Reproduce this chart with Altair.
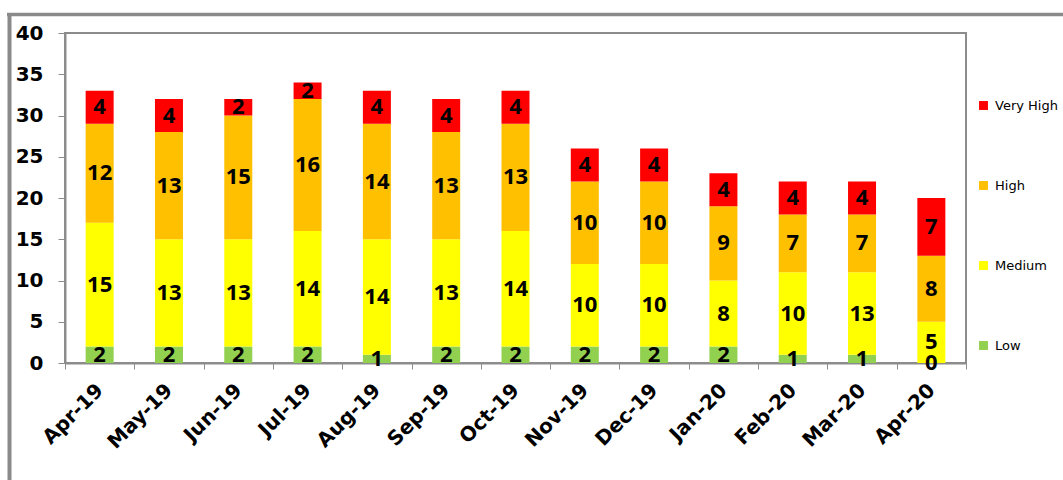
import altair as alt
import pandas as pd

months = ["Apr-19", "May-19", "Jun-19", "Jul-19", "Aug-19", "Sep-19", "Oct-19",
          "Nov-19", "Dec-19", "Jan-20", "Feb-20", "Mar-20", "Apr-20"]
series = ["Low", "Medium", "High", "Very High"]
legend_order = ["Very High", "High", "Medium", "Low"]
legend_colors = ["#FF0000", "#FFC000", "#FFFF00", "#92D050"]

low = [2, 2, 2, 2, 1, 2, 2, 2, 2, 2, 1, 1, 0]
medium = [15, 13, 13, 14, 14, 13, 14, 10, 10, 8, 10, 10, 5]
high = [12, 13, 15, 16, 14, 13, 13, 10, 10, 9, 7, 7, 8]
very_high = [4, 4, 2, 2, 4, 4, 4, 4, 4, 4, 4, 4, 7]
# data labels as printed on the original (Mar-20 Medium is labelled 13)
medium_labels = [15, 13, 13, 14, 14, 13, 14, 10, 10, 8, 10, 13, 5]

rows = []
for i, m in enumerate(months):
    vals = [low[i], medium[i], high[i], very_high[i]]
    labs = [low[i], medium_labels[i], high[i], very_high[i]]
    for k, s in enumerate(series):
        rows.append({"month": m, "series": s, "order": k, "value": vals[k], "label": str(labs[k])})
df = pd.DataFrame(rows)

base = alt.Chart(df).transform_stack(
    stack="value", groupby=["month"], as_=["y0", "y1"],
    sort=[alt.SortField("order", order="ascending")]
).transform_calculate(mid="(datum.y0 + datum.y1) / 2")

xenc = alt.X("month:N", sort=months, title=None,
             scale=alt.Scale(paddingInner=0, paddingOuter=0),
             axis=alt.Axis(labelAngle=-45, labelAlign="right", labelBaseline="middle",
                           labelFont="DejaVu Sans", labelFontWeight="bold", labelFontSize=20,
                           labelColor="black", labelPadding=18, tickSize=6, tickBand="extent",
                           tickColor="#8c8c8c", domainColor="#8c8c8c", domainWidth=2,
                           labelOverlap=False))

bars = base.mark_bar(size=28).encode(
    x=xenc,
    y=alt.Y("y0:Q", title=None,
            scale=alt.Scale(domain=[0, 40], nice=False),
            axis=alt.Axis(values=list(range(0, 41, 5)), grid=False, tickSize=7,
                          labelPadding=15, labelFont="DejaVu Sans", labelFontWeight="bold",
                          labelFontSize=20, labelColor="black", tickColor="#8c8c8c",
                          domainColor="#8c8c8c", domainWidth=2)),
    y2="y1:Q",
    color=alt.Color("series:N",
                    scale=alt.Scale(domain=legend_order, range=legend_colors),
                    legend=alt.Legend(title=None, orient="none", legendX=912, legendY=66,
                                      symbolType="square", symbolSize=80, symbolStrokeWidth=0,
                                      labelFont="DejaVu Sans", labelFontSize=13,
                                      labelColor="black", rowPadding=66, padding=0,
                                      labelOffset=5)),
)

labels = base.mark_text(font="Open Sans", fontWeight="bold", fontSize=22,
                        color="black", baseline="middle", align="center").encode(
    x=alt.X("month:N", sort=months),
    y=alt.Y("mid:Q"),
    text="label:N",
)

one = pd.DataFrame({"a": [0]})
top_border = alt.Chart(one).mark_rule(color="#8a8a8a", strokeWidth=3.5).encode(
    x=alt.value(-58), x2=alt.value(1000), y=alt.value(-18.5))
left_border = alt.Chart(one).mark_rule(color="#8a8a8a", strokeWidth=4).encode(
    x=alt.value(-55.5), y=alt.value(-20), y2=alt.value(450))

chart = alt.layer(bars, labels, top_border, left_border).properties(
    width=901, height=330,
    autosize=alt.AutoSizeParams(type="none"),
    padding={"left": 65, "top": 33, "right": 97, "bottom": 117},
    background="white",
).configure_view(stroke="#8c8c8c", strokeWidth=2)

chart.save("out.html", embed_options={"renderer": "svg", "actions": False})
